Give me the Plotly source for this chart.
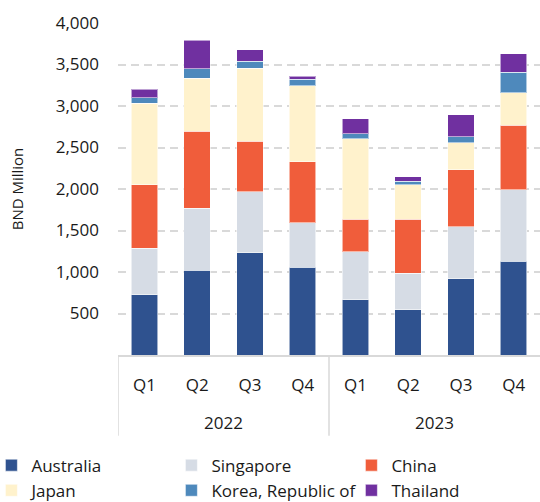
import plotly.graph_objects as go

# Quarterly values (BND million) by country
years = ["2022", "2023"]
quarters = ["Q1", "Q2", "Q3", "Q4"]
periods = [f"{y} {q}" for y in years for q in quarters]

australia = [724, 1021, 1235, 1057, 664, 543, 921, 1130]
singapore = [562, 747, 734, 534, 583, 442, 622, 863]
china = [767, 927, 606, 739, 389, 651, 686, 778]
japan = [980, 642, 879, 915, 967, 413, 326, 391]
korea = [68, 114, 85, 80, 65, 44, 77, 244]
thailand = [100, 344, 140, 36, 180, 57, 265, 225]

series = [
    ("Australia", australia, "#2F528F"),
    ("Singapore", singapore, "#D6DCE5"),
    ("China", china, "#F05D3B"),
    ("Japan", japan, "#FFF2CC"),
    ("Korea, Republic of", korea, "#4E89BC"),
    ("Thailand", thailand, "#7030A0"),
]

font_family = "Open Sans, Noto Sans, sans-serif"
text_color = "#1a1a1a"
grid_color = "#D9D9D9"

fig = go.Figure()
for name, vals, color in series:
    fig.add_trace(go.Bar(
        name=name,
        x=periods,
        y=vals,
        marker=dict(color=color, line=dict(color="rgba(255,255,255,0.55)", width=1)),
    ))

# Year group labels and group dividers below the quarter labels
n_q = len(quarters)
for i, yr in enumerate(years):
    fig.add_annotation(
        x=i * n_q + (n_q - 1) / 2, xref="x",
        y=0, yref="paper", yshift=-67, yanchor="middle",
        text=yr, showarrow=False,
        font=dict(size=17, color=text_color),
    )
for i in range(len(years)):
    fig.add_shape(
        type="line", xref="x", yref="paper",
        x0=i * n_q - 0.5, x1=i * n_q - 0.5,
        y0=0, y1=-0.243,
        line=dict(color=grid_color, width=1.5),
    )

fig.update_layout(
    barmode="stack",
    bargap=0.5,
    width=540,
    height=502,
    margin=dict(l=118, r=0, t=23, b=147, autoexpand=False),
    paper_bgcolor="white",
    plot_bgcolor="white",
    font=dict(family=font_family, size=17, color=text_color),
    showlegend=True,
    legend=dict(
        orientation="h",
        x=-0.30,
        xanchor="left",
        y=-0.279,
        yanchor="top",
        entrywidth=135,
        traceorder="normal",
        font=dict(size=17, color=text_color),
        itemwidth=30,
    ),
    xaxis=dict(
        type="category",
        tickvals=periods,
        ticktext=quarters * len(years),
        showline=True,
        linecolor=grid_color,
        linewidth=1.5,
        ticks="",
        ticklabelstandoff=14,
        tickfont=dict(size=17, color=text_color),
        range=[-0.5, len(periods) - 0.5],
    ),
    yaxis=dict(
        range=[0, 4000],
        tickvals=[500, 1000, 1500, 2000, 2500, 3000, 3500, 4000],
        tickformat=",",
        showgrid=True,
        gridcolor=grid_color,
        gridwidth=1.5,
        griddash="8px,5px",
        zeroline=False,
        showline=False,
        ticks="",
        ticklabelstandoff=18,
        tickfont=dict(size=17, color=text_color),
        title=dict(text="BND Million", font=dict(size=15, color=text_color), standoff=28),
    ),
)

fig.write_html("out.html")
